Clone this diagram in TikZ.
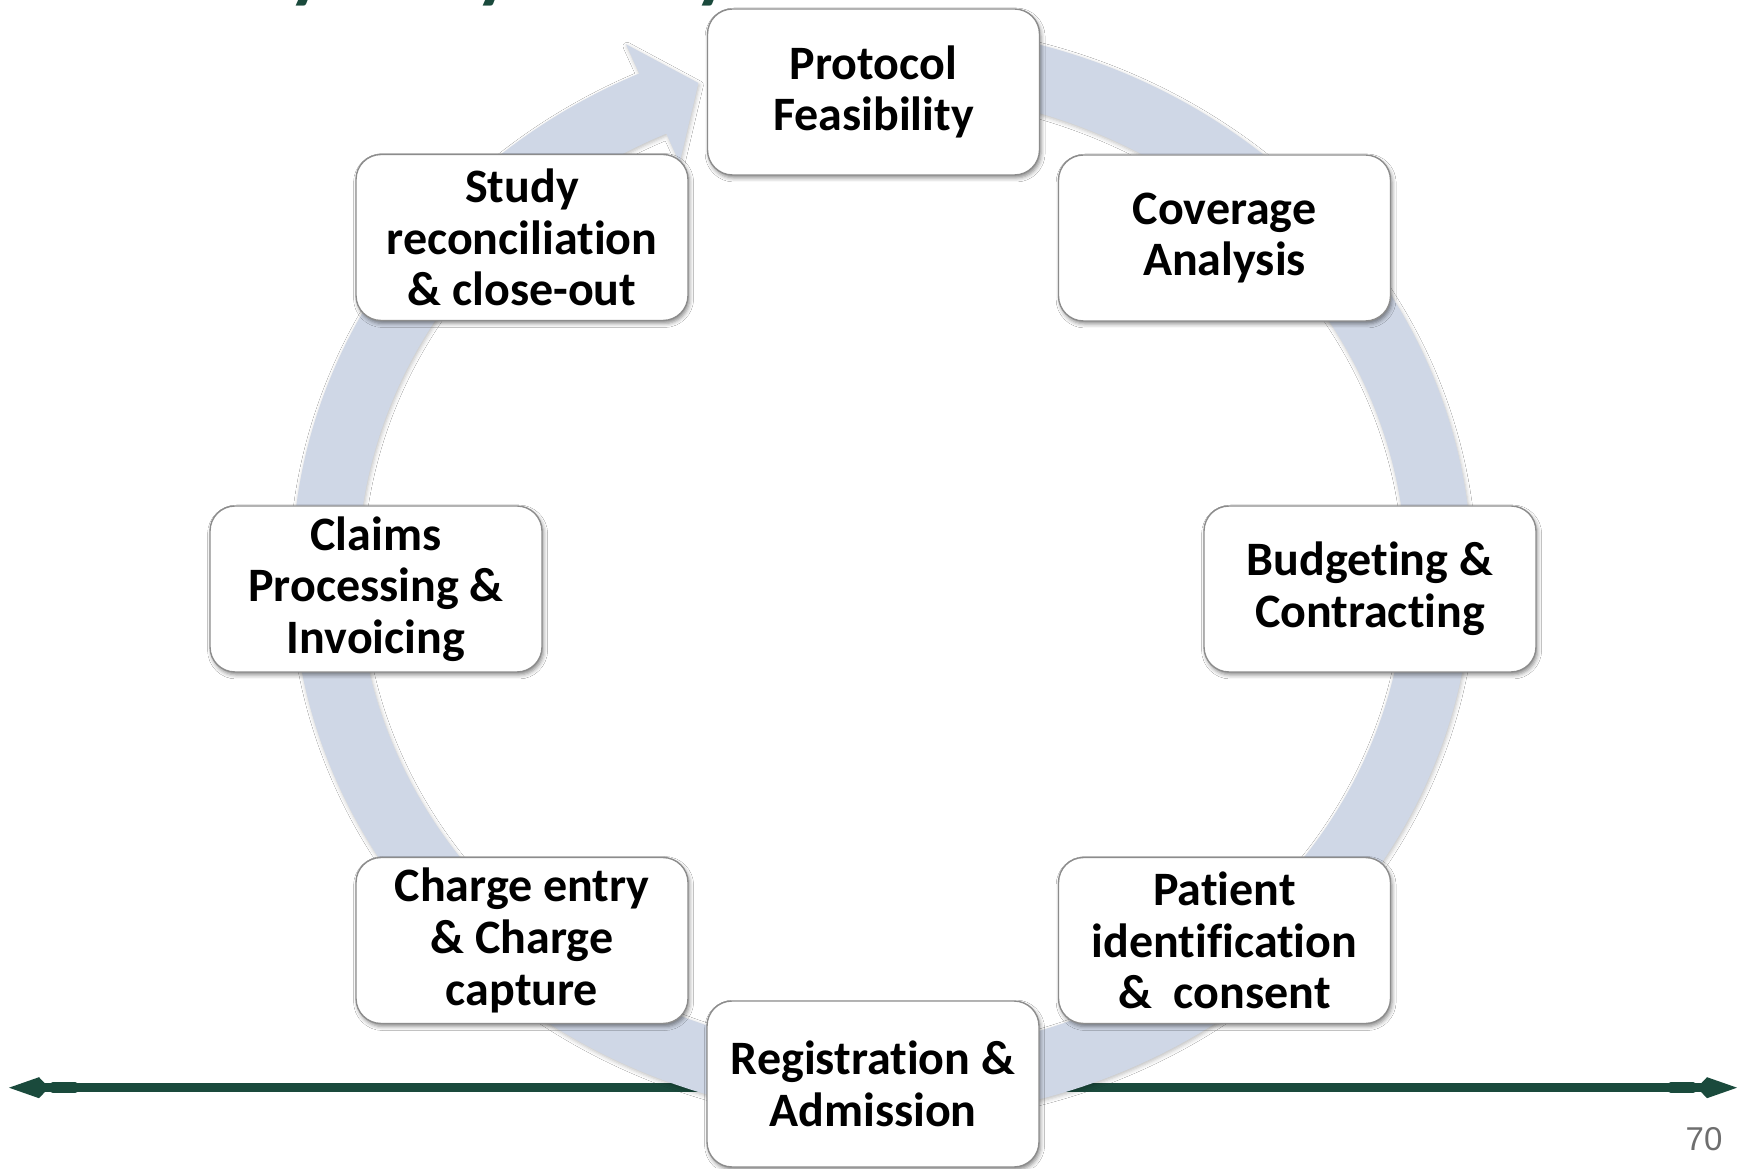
\documentclass[tikz,border=0pt]{standalone}
\usepackage{fontspec}
\setmainfont{Carlito}[Ligatures={NoCommon}]
\newfontfamily\numfont{Liberation Sans}
\usetikzlibrary{shadows.blur,calc,arrows.meta}
\definecolor{ringblue}{HTML}{CFD7E6}
\definecolor{darkgreen}{HTML}{1A4A3C}
\definecolor{boxborder}{HTML}{8C8C8C}
\definecolor{pagegray}{HTML}{6E6E6E}
\begin{document}
\begin{tikzpicture}[x=0.5pt,y=0.5pt,
  stage/.style={draw=boxborder, line width=0.7pt, fill=white, rounded corners=12.5pt,
    minimum width=166pt, minimum height=83pt, align=center, inner sep=0pt,
    font={\fontsize{24}{25.8}\selectfont\bfseries},
    blur shadow={shadow xshift=0.8pt, shadow yshift=-1.5pt, shadow blur radius=2pt, shadow opacity=45}},
  titlefrag/.style={anchor=base, text=darkgreen, font={\fontsize{40}{40}\selectfont\bfseries}},
  timeline/.style={darkgreen, line width=4.5pt, {Kite[length=20pt,width=10.5pt,inset=5pt]}-{Kite[length=20pt,width=10.5pt,inset=5pt]}},
  ringfill/.style={fill=ringblue, blur shadow={shadow xshift=0.5pt, shadow yshift=-1pt, shadow blur radius=2pt, shadow opacity=25}}]
\fill[white] (0,0) rectangle (1745,1168);
\useasboundingbox (0,0) rectangle (1745,1168);

% clipped title fragments (the title itself lies above the picture)
\begin{scope}
\clip (0,0) rectangle (1745,1168);
\node[titlefrag] (t1) at (307,1174) {y};
\node[titlefrag] (t2) at (494,1174) {y};
\node[titlefrag] (t3) at (713,1174) {y};
\end{scope}

% timeline
\coordinate (lineL) at (9,80.3);
\coordinate (lineR) at (1737,80.3);
\draw[timeline] (lineL) -- (lineR);
\draw[darkgreen, line width=5.3pt, line cap=round] ([xshift=22pt]lineL) -- ([xshift=33pt]lineL);
\draw[darkgreen, line width=5.3pt, line cap=round] ([xshift=-22pt]lineR) -- ([xshift=-33pt]lineR);

% cycle ring
\coordinate (rc) at (882,596);
\fill[ringfill] ($(rc)+(95:295pt and 273.5pt)$)
  arc[start angle=95, end angle=-245.7, x radius=295pt, y radius=273.5pt]
  -- (626.0,1123.7) -- (698.4,1085.0) -- (679.6,1005.2)
  -- ($(rc)+(-245.7:262pt and 240.5pt)$)
  arc[start angle=-245.7, end angle=95, x radius=262pt, y radius=240.5pt]
  -- cycle;

% stages
\node[stage] (prot) at (873.5,1076) {Protocol\\Feasibility};
\node[stage] (cov)  at (1224.5,930) {Coverage\\Analysis};
\node[stage] (bud)  at (1370,579) {Budgeting \&\\Contracting};
\node[stage] (pat)  at (1224.5,227.5) {Patient\\identification\\\&\ \ consent};
\node[stage] (reg)  at (873,84) {Registration \&\\Admission};
\node[stage] (chg)  at (522,227.5) {Charge entry\\\& Charge\\capture};
\node[stage] (clm)  at (376,579) {Claims\\Processing \&\\Invoicing};
\node[stage] (stu)  at (522,930.5) {Study\\reconciliation\\\& close-out};

\node[text=pagegray, font={\numfont\fontsize{16.5}{18}\selectfont}] (pnum) at (1704,29) {70};
\end{tikzpicture}
\end{document}
